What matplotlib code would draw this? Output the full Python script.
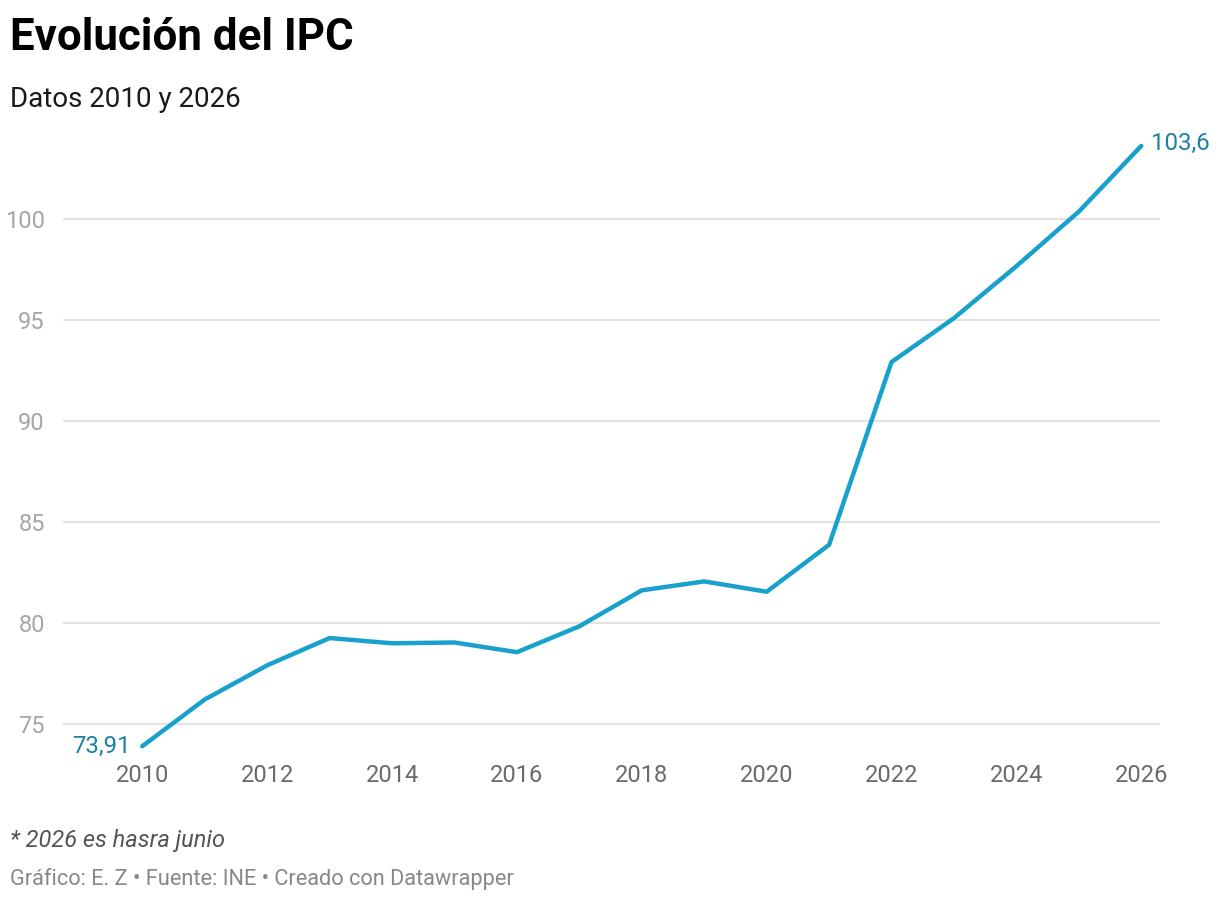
import matplotlib
matplotlib.use("Agg")
import matplotlib.pyplot as plt

plt.rcParams['font.family'] = ['Roboto', 'DejaVu Sans']

years = [2010, 2011, 2012, 2013, 2014, 2015, 2016, 2017, 2018,
         2019, 2020, 2021, 2022, 2023, 2024, 2025, 2026]
ipc = [73.91, 76.22, 77.91, 79.26, 79.00, 79.04, 78.56, 79.84, 81.62,
       82.06, 81.55, 83.87, 92.91, 95.08, 97.65, 100.35, 103.6]
y_ticks = [75, 80, 85, 90, 95, 100]
x_ticks = [2010, 2012, 2014, 2016, 2018, 2020, 2022, 2024, 2026]

title = "Evolución del IPC"
subtitle = "Datos 2010 y 2026"
note = "* 2026 es hasra junio"
credit = "Gráfico: E. Z • Fuente: INE • Creado con Datawrapper"

W, H = 1220, 900
fig = plt.figure(figsize=(W / 100, H / 100), dpi=100)
fig.patch.set_facecolor('white')

ax_l, ax_r = 63, 1160
ax_t, ax_b = 137.8, 754.5
ax = fig.add_axes([ax_l / W, 1 - ax_b / H, (ax_r - ax_l) / W, (ax_b - ax_t) / H])
ax.set_xlim(2008.73, 2026.30)
ax.set_ylim(73.5, 104.0)

line_color = '#18a1cd'
label_color = '#1d81a2'

ax.plot(years, ipc, color=line_color, lw=3.2, solid_capstyle='round',
        solid_joinstyle='round', zorder=3, clip_on=False)

for s in ax.spines.values():
    s.set_visible(False)

ax.set_yticks(y_ticks)
ax.set_yticklabels([str(t) for t in y_ticks])
ax.set_xticks(x_ticks)
ax.set_xticklabels([str(t) for t in x_ticks])
ax.grid(axis='y', color='#e2e2e2', lw=1.5, zorder=0)
ax.grid(axis='x', visible=False)
ax.tick_params(axis='y', length=0, pad=13, labelsize=17, labelcolor='#a6a6a6')
ax.tick_params(axis='x', length=0, pad=7, labelsize=17, labelcolor='#6a6a6a')

ax.annotate(f"{ipc[0]:.2f}".replace('.', ','), xy=(years[0], ipc[0]),
            xytext=(-12, 0), textcoords='offset pixels', ha='right', va='center',
            fontsize=17.3, color=label_color)
ax.annotate(f"{ipc[-1]:.1f}".replace('.', ','), xy=(years[-1], ipc[-1]),
            xytext=(10, 2), textcoords='offset pixels', ha='left', va='center',
            fontsize=17.3, color=label_color)

fig.text(10 / W, 1 - 17 / H, title, fontsize=31.6, fontweight='bold',
         color='#000000', ha='left', va='top')
fig.text(10 / W, 1 - 86 / H, subtitle, fontsize=20, color='#1a1a1a',
         ha='left', va='top')
fig.text(10 / W, 1 - 829 / H, note, fontsize=17, style='italic',
         color='#555555', ha='left', va='top')
fig.text(10 / W, 1 - 868 / H, credit, fontsize=15.7, color='#888888',
         ha='left', va='top')

fig.savefig('out.png', dpi=100, facecolor='white')
